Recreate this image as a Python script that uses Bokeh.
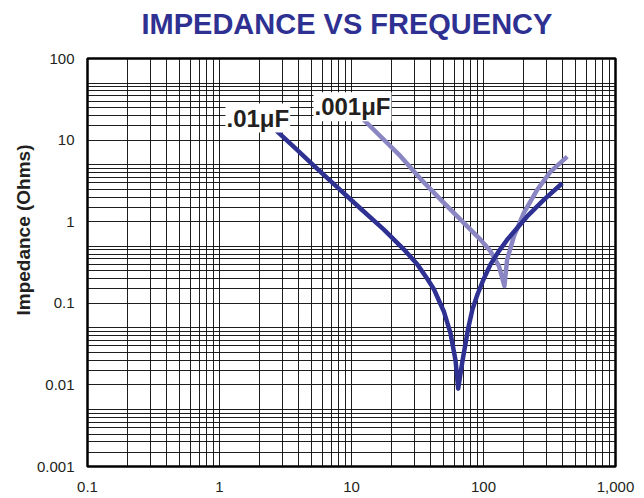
import numpy as np
from bokeh.plotting import figure
from bokeh.models import FixedTicker, Label, ColumnDataSource, Title
from bokeh.embed import file_html
from bokeh.resources import INLINE

# ---- data ----
freq_01uF = [2.51, 3.66, 5.18, 7.79, 11.7, 17.6, 24.9, 31.5, 37.5, 42.0, 47.2, 50.0,
             56.2, 61.4, 64.3, 69.0, 76.3, 82.5, 90.1, 100, 113, 130, 151, 214, 286, 395]
imp_01uF = [14.5, 8.28, 4.85, 2.65, 1.45, 0.80, 0.459, 0.30, 0.20, 0.15, 0.098, 0.080,
            0.043, 0.020, 0.0090, 0.0189, 0.048, 0.0845, 0.129, 0.196, 0.30, 0.43, 0.60, 1.16, 1.85, 2.96]

freq_001uF = [12.1, 23.5, 33.3, 47.2, 67.0, 94.9, 113, 131, 144, 151, 170, 202, 255, 322, 431]
imp_001uF = [18.4, 6.35, 3.35, 1.88, 1.06, 0.603, 0.434, 0.285, 0.163, 0.344, 0.662, 1.28, 2.46, 4.10, 6.26]

x_ticks = [0.1, 1, 10, 100, 1000]
x_tick_labels = ["0.1", "1", "10", "100", "1,000"]
y_ticks = [0.001, 0.01, 0.1, 1, 10, 100]
y_tick_labels = ["0.001", "0.01", "0.1", "1", "10", "100"]
x_minor_mult = [2, 3, 4, 5, 6, 7, 8, 9]
y_minor_mult = [1.5, 2, 2.5, 3, 3.5, 4, 4.5, 5]

title_text = "IMPEDANCE VS FREQUENCY"
y_label_text = "Impedance (Ohms)"
series_labels = [".01\u03bcF", ".001\u03bcF"]

DARK = "#2e3192"
LIGHT = "#8a85c3"
TXT = "#231f20"
FONT = "Liberation Sans"

x_minor = [m * d for d in x_ticks[:-1] for m in x_minor_mult]
y_minor = [m * d for d in y_ticks[:-1] for m in y_minor_mult]

p = figure(width=636, height=494, x_axis_type="log", y_axis_type="log",
           x_range=(0.1, 1000), y_range=(0.001, 100),
           output_backend="svg", toolbar_location=None,
           min_border_left=87, min_border_right=21, min_border_top=58, min_border_bottom=26)

p.title.text = ""
p.title.standoff = 0

spacer = Title(text=" ", text_font_size="1px", standoff=16)
p.add_layout(spacer, "above")
main_title = Title(text=title_text, align="left", offset=54, text_font=FONT,
                   text_font_size="29px", text_font_style="bold", text_color=DARK, standoff=0)
p.add_layout(main_title, "above")

ytitle = Title(text=y_label_text, align="right", offset=86, text_font=FONT,
               text_font_size="19px", text_font_style="bold", text_color=TXT, standoff=0)
p.add_layout(ytitle, "left")

xt = FixedTicker(ticks=x_ticks, minor_ticks=x_minor)
yt = FixedTicker(ticks=y_ticks, minor_ticks=y_minor)
p.xaxis.ticker = xt
p.yaxis.ticker = yt
p.xgrid.ticker = xt
p.ygrid.ticker = yt
p.xaxis.major_label_overrides = {float(t): l for t, l in zip(x_ticks, x_tick_labels)}
p.yaxis.major_label_overrides = {float(t): l for t, l in zip(y_ticks, y_tick_labels)}

for ax in (p.xaxis, p.yaxis):
    ax.axis_line_color = None
    ax.major_tick_line_color = None
    ax.minor_tick_line_color = None
    ax.major_label_text_font = FONT
    ax.major_label_text_font_size = "15px"
    ax.major_label_text_color = TXT
p.xaxis.major_label_standoff = 9
p.yaxis.major_label_standoff = 7

for g in (p.xgrid, p.ygrid):
    g.grid_line_color = "#111111"
    g.grid_line_alpha = 0.95
    g.grid_line_width = 1
    g.minor_grid_line_color = "#111111"
    g.minor_grid_line_alpha = 0.95
    g.minor_grid_line_width = 1

p.outline_line_color = "black"
p.outline_line_width = 2.5
p.background_fill_color = "white"
p.border_fill_color = "white"

src1 = ColumnDataSource(dict(x=freq_01uF, y=imp_01uF))
src2 = ColumnDataSource(dict(x=freq_001uF, y=imp_001uF))
p.line("x", "y", source=src2, line_color=LIGHT, line_width=4.5, line_join="round")
p.line("x", "y", source=src1, line_color=DARK, line_width=4.5, line_join="round")

lab1 = Label(x=1.11, y=18.6, text=series_labels[0], text_font=FONT, text_font_style="bold",
             text_font_size="24px", text_color=TXT, text_align="left",
             text_baseline="alphabetic", background_fill_color="white", padding=1)
lab2 = Label(x=5.15, y=25.6, text=series_labels[1], text_font=FONT, text_font_style="bold",
             text_font_size="24px", text_color=TXT, text_align="left",
             text_baseline="alphabetic", background_fill_color="white", padding=1)
p.add_layout(lab1)
p.add_layout(lab2)

open("out.html", "w").write(file_html(p, INLINE))
